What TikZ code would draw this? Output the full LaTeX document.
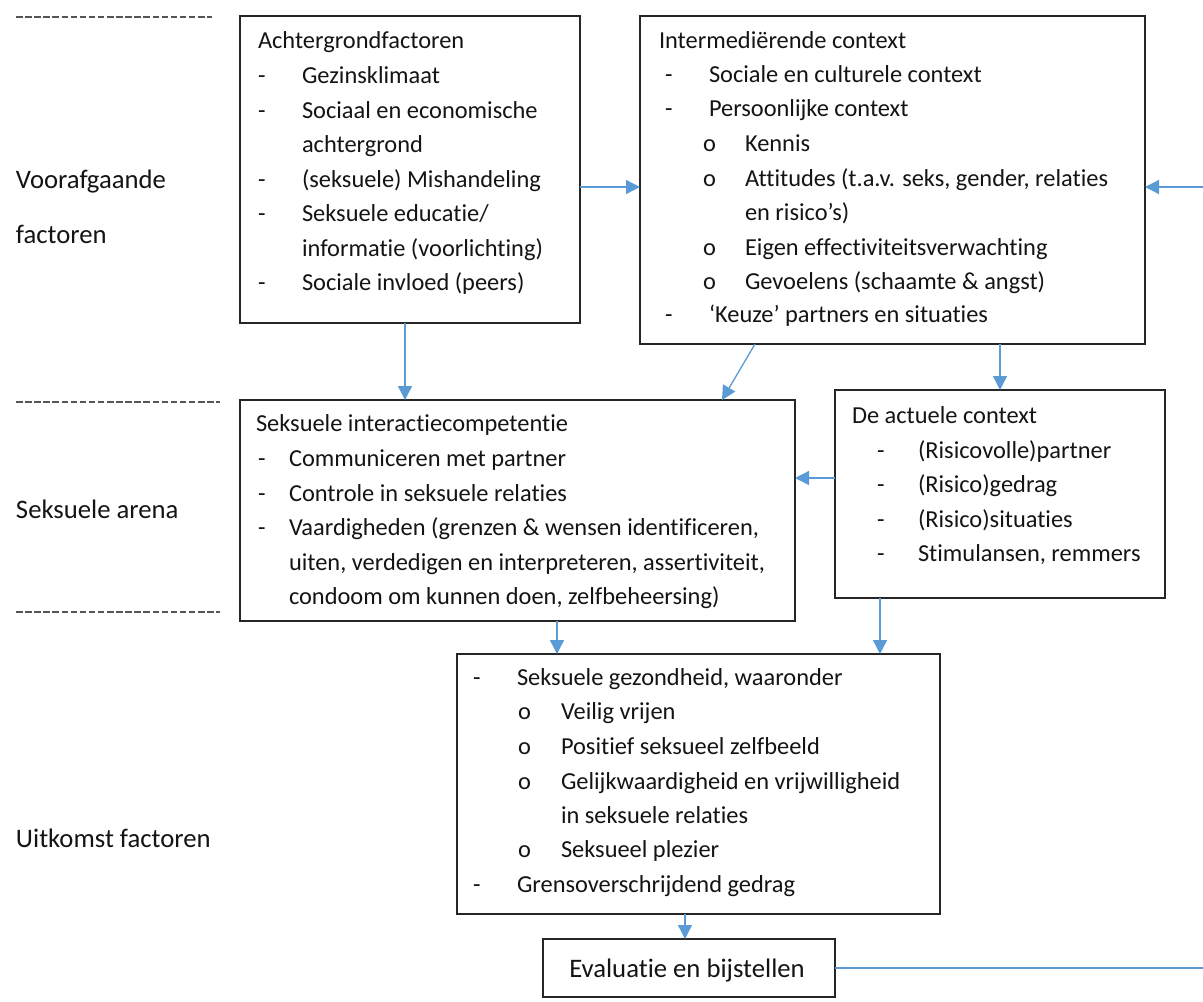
\documentclass[tikz,border=0pt]{standalone}
\usepackage{fontspec}
\setmainfont[Ligatures=NoCommon]{Carlito}
\usetikzlibrary{arrows.meta}
\definecolor{arrblue}{HTML}{5B9BD5}
\definecolor{txtc}{HTML}{141414}
\definecolor{sepc}{HTML}{555555}
\tikzset{
  box/.style={draw=black!85, line width=1.3pt, inner sep=0pt, outer sep=0pt, anchor=north west},
  lbl/.style={anchor=base west, inner sep=0pt, outer sep=0pt, text=txtc, font=\fontsize{24.4}{30}\selectfont},
  biglbl/.style={lbl, font=\fontsize{26.7}{32}\selectfont},
  arr/.style={draw=arrblue, line width=1.3pt, -{Triangle[length=14pt,width=14pt]}},
  fb/.style={draw=arrblue, line width=1.3pt},
  sepline/.style={draw=sepc, line width=1.6pt, dash pattern=on 6.5pt off 2.6pt}
}
\newcommand\Ln[4]{\node[lbl] (#1) at (#2,#3) {#4};}
\begin{document}
\begin{tikzpicture}[x=1pt,y=-1pt]
\useasboundingbox (0,0) rectangle (1203,1002);
\fill[white] (0,0) rectangle (1203,1002);

% separators
\draw[sepline] (16,17) -- (212,17);
\draw[sepline] (16,402) -- (220,402);
\draw[sepline] (16,612) -- (220,612);

% left labels
\node[biglbl] (l1) at (16,188) {Voorafgaande};
\node[biglbl] (l2) at (16,243) {factoren};
\node[biglbl] (l3) at (16,518) {Seksuele arena};
\node[biglbl] (l4) at (16,847) {Uitkomst factoren};

% boxes
\node[box, minimum width=340pt, minimum height=307pt] (A) at (240,16) {};
\node[box, minimum width=505pt, minimum height=328pt] (B) at (640,16) {};
\node[box, minimum width=555pt, minimum height=221pt] (C) at (240,400) {};
\node[box, minimum width=330pt, minimum height=208pt] (D) at (835,390) {};
\node[box, minimum width=483pt, minimum height=260pt] (E) at (457,654) {};
\node[box, minimum width=292pt, minimum height=58pt] (F) at (543,939) {};

% box A text
\Ln{a0}{258}{48}{Achtergrondfactoren}
\Ln{ad1}{258}{83}{-}\Ln{a1}{302}{83}{Gezinsklimaat}
\Ln{ad2}{258}{118}{-}\Ln{a2}{302}{118}{Sociaal en economische}
\Ln{a3}{302}{152}{achtergrond}
\Ln{ad4}{258}{187}{-}\Ln{a4}{302}{187}{(seksuele) Mishandeling}
\Ln{ad5}{258}{221}{-}\Ln{a5}{302}{221}{Seksuele educatie/}
\Ln{a6}{302}{256}{informatie (voorlichting)}
\Ln{ad7}{258}{290}{-}\Ln{a7}{302}{290}{Sociale invloed (peers)}

% box B text
\Ln{b0}{659}{48}{Intermedi\"erende context}
\Ln{bd1}{665}{82}{-}\Ln{b1}{709}{82}{Sociale en culturele context}
\Ln{bd2}{665}{116}{-}\Ln{b2}{709}{116}{Persoonlijke context}
\Ln{bo3}{703}{151}{o}\Ln{b3}{745}{151}{Kennis}
\Ln{bo4}{703}{186}{o}\Ln{b4}{745}{186}{Attitudes (t.a.v. seks, gender, relaties}
\Ln{b5}{745}{220}{en risico’s)}
\Ln{bo6}{703}{255}{o}\Ln{b6}{745}{255}{Eigen effectiviteitsverwachting}
\Ln{bo7}{703}{289}{o}\Ln{b7}{745}{289}{Gevoelens (schaamte \& angst)}
\Ln{bd8}{665}{322}{-}\Ln{b8}{709}{322}{‘Keuze’ partners en situaties}

% box C text
\Ln{c0}{256}{431}{Seksuele interactiecompetentie}
\Ln{cd1}{258}{466}{-}\Ln{c1}{289}{466}{Communiceren met partner}
\Ln{cd2}{258}{501}{-}\Ln{c2}{289}{501}{Controle in seksuele relaties}
\Ln{cd3}{258}{535}{-}\Ln{c3}{289}{535}{Vaardigheden (grenzen \& wensen identificeren,}
\Ln{c4}{289}{570}{uiten, verdedigen en interpreteren, assertiviteit,}
\Ln{c5}{289}{604}{condoom om kunnen doen, zelfbeheersing)}

% box D text
\Ln{d0}{852}{423}{De actuele context}
\Ln{dd1}{877}{458}{-}\Ln{d1}{918}{458}{(Risicovolle)partner}
\Ln{dd2}{877}{492}{-}\Ln{d2}{918}{492}{(Risico)gedrag}
\Ln{dd3}{877}{527}{-}\Ln{d3}{918}{527}{(Risico)situaties}
\Ln{dd4}{877}{561}{-}\Ln{d4}{918}{561}{Stimulansen, remmers}

% box E text
\Ln{ed1}{473}{685}{-}\Ln{e1}{517}{685}{Seksuele gezondheid, waaronder}
\Ln{eo2}{518}{719}{o}\Ln{e2}{561}{719}{Veilig vrijen}
\Ln{eo3}{518}{754}{o}\Ln{e3}{561}{754}{Positief seksueel zelfbeeld}
\Ln{eo4}{518}{789}{o}\Ln{e4}{561}{789}{Gelijkwaardigheid en vrijwilligheid}
\Ln{e5}{561}{823}{in seksuele relaties}
\Ln{eo6}{518}{857}{o}\Ln{e6}{561}{857}{Seksueel plezier}
\Ln{ed7}{473}{892}{-}\Ln{e7}{517}{892}{Grensoverschrijdend gedrag}

% box F text
\node[biglbl, anchor=base] (f0) at (687,977) {Evaluatie en bijstellen};

% feedback ends at the picture edge
\coordinate (fbLow) at (1203,968);
\coordinate (fbHigh) at (1203,187);

% connectors
\draw[arr] ([yshift=-17.5pt]A.east) -- ([yshift=-17.5pt]A.east -| B.west);
\draw[arr] ([xshift=-5pt]A.south) -- ([xshift=-5pt]A.south |- C.north);
\draw[arr] ([xshift=-137.5pt]B.south) -- ([xshift=204.5pt]C.north);
\draw[arr] (D.north |- B.south) -- (D.north);
\draw[arr] ([yshift=16pt]D.west) -- ([yshift=16pt]D.west -| C.east);
\draw[arr] ([xshift=39.5pt]C.south) -- ([xshift=39.5pt]C.south |- E.north);
\draw[arr] ([xshift=-120pt]D.south) -- ([xshift=-120pt]D.south |- E.north);
\draw[arr] ([xshift=-4pt]F.north |- E.south) -- ([xshift=-4pt]F.north);
\draw[fb] (F.east) -- (fbLow);
\draw[arr] (fbHigh) -- (fbHigh -| B.east);
\end{tikzpicture}
\end{document}
